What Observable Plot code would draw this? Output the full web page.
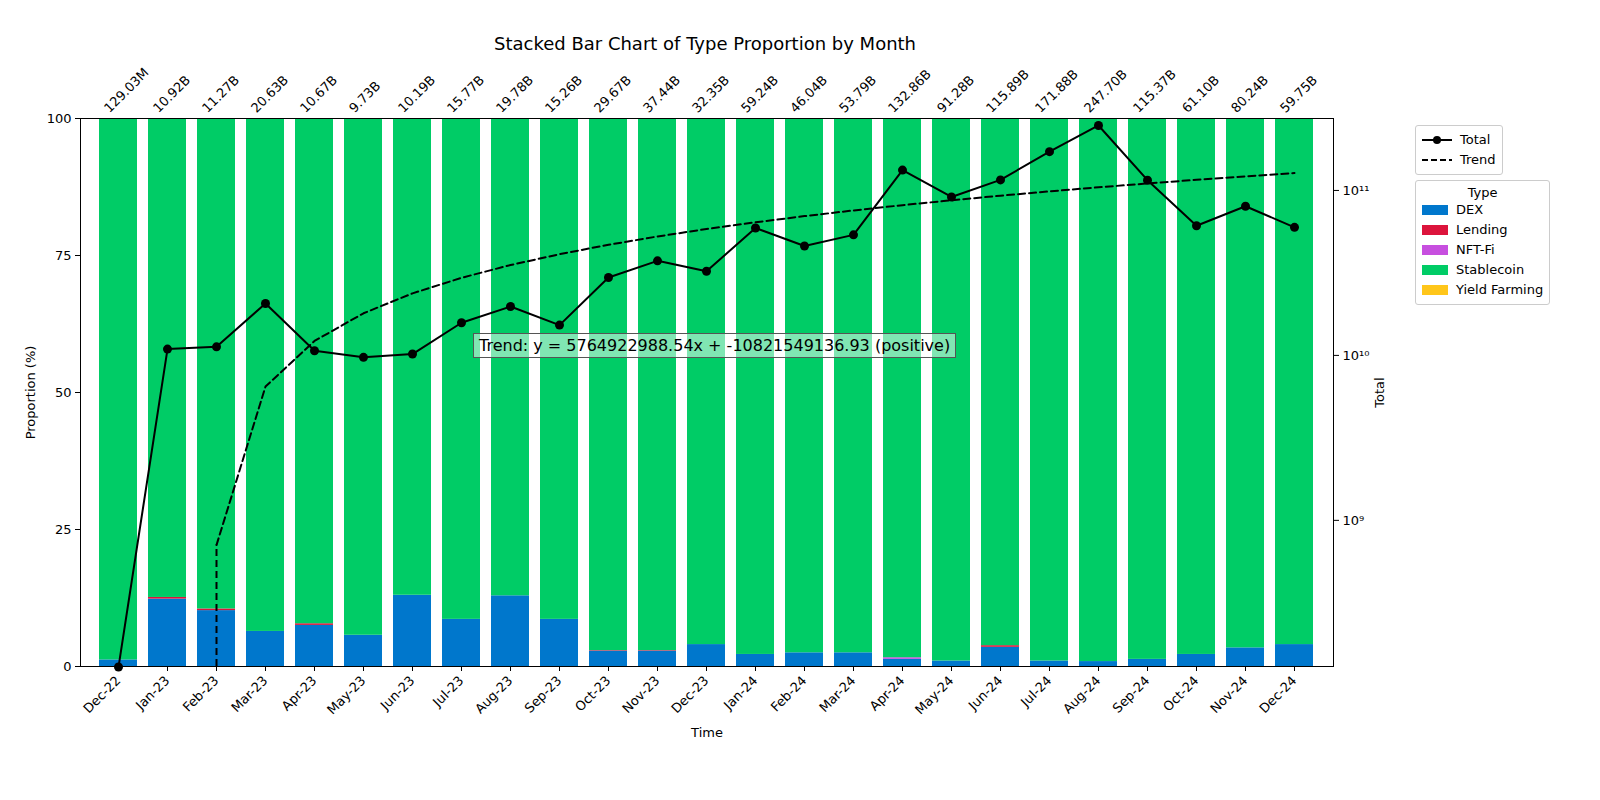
<!DOCTYPE html>
<html><head><meta charset="utf-8">
<script src="https://cdn.jsdelivr.net/npm/d3@7"></script>
<script src="https://cdn.jsdelivr.net/npm/@observablehq/plot@0.6"></script>
<style>
body{margin:0;background:#fff;font-family:"DejaVu Sans",sans-serif;overflow:hidden;}
#wrap{position:relative;width:1600px;height:800px;}
#title{position:absolute;top:33px;left:0;width:1410px;text-align:center;font-size:18px;}
.box{position:absolute;border:1px solid #ccc;border-radius:3px;background:#fff;font-size:13px;padding:4px 6px;}
.row{display:flex;align-items:center;gap:8px;line-height:20px;}
.sw{width:26px;height:10px;}
#note{position:absolute;left:473px;top:333px;background:rgba(255,255,255,0.5);border:1px solid #555;font-size:16px;padding:2px 5px;}
#chart{position:absolute;left:0;top:0;}
</style></head><body>
<div id="wrap">
<div id="chart"></div>
<div id="title">Stacked Bar Chart of Type Proportion by Month</div>
<div id="note">Trend: y = 5764922988.54x + -10821549136.93 (positive)</div>
<div class="box" style="left:1415px;top:125px;">
  <div class="row"><svg width="30" height="10"><line x1="0" y1="5" x2="30" y2="5" stroke="#000" stroke-width="2"/><circle cx="15" cy="5" r="4"/></svg>Total</div>
  <div class="row"><svg width="30" height="10"><line x1="0" y1="5" x2="30" y2="5" stroke="#000" stroke-width="2" stroke-dasharray="6,3"/></svg>Trend</div>
</div>
<div class="box" id="leg" style="left:1415px;top:180px;"><div style="text-align:center">Type</div></div>
</div>
<script>
const months = ["Dec-22","Jan-23","Feb-23","Mar-23","Apr-23","May-23","Jun-23","Jul-23","Aug-23","Sep-23","Oct-23","Nov-23","Dec-23","Jan-24","Feb-24","Mar-24","Apr-24","May-24","Jun-24","Jul-24","Aug-24","Sep-24","Oct-24","Nov-24","Dec-24"];
const totals = [129.03e6,10.92e9,11.27e9,20.63e9,10.67e9,9.73e9,10.19e9,15.77e9,19.78e9,15.26e9,29.67e9,37.44e9,32.35e9,59.24e9,46.04e9,53.79e9,132.86e9,91.28e9,115.89e9,171.88e9,247.70e9,115.37e9,61.10e9,80.24e9,59.75e9];
const totalLabels = ["129.03M","10.92B","11.27B","20.63B","10.67B","9.73B","10.19B","15.77B","19.78B","15.26B","29.67B","37.44B","32.35B","59.24B","46.04B","53.79B","132.86B","91.28B","115.89B","171.88B","247.70B","115.37B","61.10B","80.24B","59.75B"];
const dex =     [1.2,12.3,10.2,6.4,7.5,5.7,13.0,8.6,12.9,8.6,2.8,2.8,4.0,2.2,2.5,2.5,1.3,1.0,3.5,1.0,0.9,1.3,2.2,3.4,4.0];
const lending = [0,0.3,0.3,0,0.3,0,0,0,0,0,0.1,0.1,0,0,0,0,0,0,0.3,0,0,0,0,0,0];
const nftfi =   [0,0,0,0,0,0,0,0,0,0,0,0,0,0,0,0,0.3,0,0,0,0,0,0,0,0];
const yieldF =  [0,0,0,0,0,0,0,0,0,0,0,0,0,0,0,0,0,0,0,0,0,0,0,0,0];
// trend values from the fitted line shown in the chart (null where <= 0)
const trend = [null,null,0.708e9,6.473e9,12.238e9,18.003e9,23.768e9,29.533e9,35.298e9,41.063e9,46.827e9,52.592e9,58.357e9,64.122e9,69.887e9,75.652e9,81.417e9,87.182e9,92.947e9,98.712e9,104.477e9,110.242e9,116.007e9,121.772e9,127.537e9];
const types = ["DEX","Lending","NFT-Fi","Stablecoin","Yield Farming"];
const colors = ["#0077cc","#dc143c","#c74fdf","#00cc66","#ffc61a"];

const rows = [];
months.forEach((m,i)=>{
  const st = 100-dex[i]-lending[i]-nftfi[i]-yieldF[i];
  [dex[i],lending[i],nftfi[i],st,yieldF[i]].forEach((v,j)=>rows.push({month:m,type:types[j],value:v}));
});
const lo = Math.log10(1.3e8), hi = Math.log10(2.73e11);
const ly = v => (Math.log10(v)-lo)/(hi-lo)*100;
const tot = months.map((m,i)=>({month:m,y:ly(totals[i]),label:totalLabels[i]}));
const tr = months.map((m,i)=>({month:m,y:trend[i]==null?null:ly(trend[i])})).filter(d=>d.y!=null);
const majors = [1e9,1e10,1e11];

const chart = Plot.plot({
  width:1600, height:770,
  marginTop:118, marginBottom:104, marginLeft:80, marginRight:267,
  style:{fontSize:"13px",fontFamily:"DejaVu Sans"},
  x:{domain:months, padding:0.22},
  y:{domain:[0,100]},
  color:{domain:types, range:colors},
  marks:[
    Plot.barY(rows,{x:"month",y:"value",fill:"type",order:types}),
    Plot.axisX({tickRotate:-45, label:"Time", labelAnchor:"center", labelOffset:70, tickSize:5, marginLeft:80}),
    Plot.axisY({ticks:[0,25,50,75,100], label:"Proportion (%)", labelAnchor:"center", labelArrow:"none", tickSize:5, labelOffset:55}),
    Plot.axisY(majors.map(ly),{anchor:"right", tickFormat:(d,i)=>"10"+["⁹","¹⁰","¹¹"][i], label:"Total", labelAnchor:"center", labelArrow:"none", labelOffset:50, tickSize:5}),
    Plot.line(tr,{x:"month",y:"y",stroke:"#000",strokeWidth:2,strokeDasharray:"7,4"}),
    Plot.ruleX([months[2]],{y1:0,y2:ly(trend[2]),stroke:"#000",strokeWidth:2,strokeDasharray:"7,4"}),
    Plot.line(tot,{x:"month",y:"y",stroke:"#000",strokeWidth:2}),
    Plot.dot(tot,{x:"month",y:"y",fill:"#000",r:4.5}),
    Plot.text(tot,{x:"month",y:100,text:"label",rotate:-45,textAnchor:"start",dy:-8,dx:-12,fontSize:13}),
    Plot.frame({stroke:"#000"})
  ]
});
document.getElementById("chart").append(chart);
const leg=document.getElementById("leg");
types.forEach((t,i)=>{const r=document.createElement("div");r.className="row";r.innerHTML=`<div class="sw" style="background:${colors[i]}"></div>${t}`;leg.append(r);});
</script>
</body></html>
